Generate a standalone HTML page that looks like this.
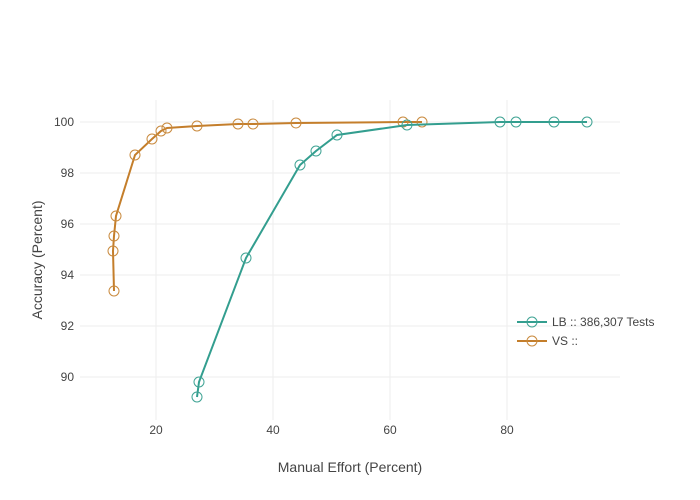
<!DOCTYPE html>
<html><head><meta charset="utf-8"><style>body{margin:0;background:#fff}svg{display:block}text{font-family:"Liberation Sans","Open Sans",sans-serif;fill:#444}</style></head><body>
<svg width="700" height="500" xmlns="http://www.w3.org/2000/svg">
<g stroke="#eeeeee" stroke-width="1">
<line x1="80" x2="620" y1="122" y2="122"/><line x1="80" x2="620" y1="173" y2="173"/><line x1="80" x2="620" y1="224" y2="224"/><line x1="80" x2="620" y1="275" y2="275"/><line x1="80" x2="620" y1="326" y2="326"/><line x1="80" x2="620" y1="377" y2="377"/>
<line x1="156" x2="156" y1="100" y2="420"/><line x1="273" x2="273" y1="100" y2="420"/><line x1="390" x2="390" y1="100" y2="420"/><line x1="507" x2="507" y1="100" y2="420"/>
</g>
<g font-size="12" text-anchor="end">
<text x="74" y="126">100</text><text x="74" y="177">98</text><text x="74" y="228">96</text><text x="74" y="279">94</text><text x="74" y="330">92</text><text x="74" y="381">90</text>
</g>
<g font-size="12" text-anchor="middle">
<text x="156" y="434">20</text><text x="273" y="434">40</text><text x="390" y="434">60</text><text x="507" y="434">80</text>
</g>
<text x="350" y="472" font-size="14" text-anchor="middle">Manual Effort (Percent)</text>
<text transform="translate(42,260) rotate(-90)" font-size="14" text-anchor="middle">Accuracy (Percent)</text>
<polyline fill="none" stroke="#c47e2b" stroke-width="2" points="114,291 113,251 114,236 116,216 135,155 152,139 161,131 167,128 197,126 238,124 253,124 296,123 403,122 422,122"/>
<g fill="none" stroke="#c98a3e" stroke-width="1">
<circle cx="114" cy="291" r="5"/><circle cx="113" cy="251" r="5"/><circle cx="114" cy="236" r="5"/><circle cx="116" cy="216" r="5"/><circle cx="135" cy="155" r="5"/><circle cx="152" cy="139" r="5"/><circle cx="161" cy="131" r="5"/><circle cx="167" cy="128" r="5"/><circle cx="197" cy="126" r="5"/><circle cx="238" cy="124" r="5"/><circle cx="253" cy="124" r="5"/><circle cx="296" cy="123" r="5"/><circle cx="403" cy="122" r="5"/><circle cx="422" cy="122" r="5"/>
</g>
<polyline fill="none" stroke="#339e8f" stroke-width="2" points="197,397 199,382 246,258 300,165 316,151 337,135 407,125 500,122 516,122 554,122 587,122"/>
<g fill="none" stroke="#3fa394" stroke-width="1">
<circle cx="197" cy="397" r="5"/><circle cx="199" cy="382" r="5"/><circle cx="246" cy="258" r="5"/><circle cx="300" cy="165" r="5"/><circle cx="316" cy="151" r="5"/><circle cx="337" cy="135" r="5"/><circle cx="407" cy="125" r="5"/><circle cx="500" cy="122" r="5"/><circle cx="516" cy="122" r="5"/><circle cx="554" cy="122" r="5"/><circle cx="587" cy="122" r="5"/>
</g>
<line x1="517" x2="547" y1="322" y2="322" stroke="#339e8f" stroke-width="2"/><circle cx="532" cy="322" r="5" fill="none" stroke="#3fa394"/>
<line x1="517" x2="547" y1="341" y2="341" stroke="#c47e2b" stroke-width="2"/><circle cx="532" cy="341" r="5" fill="none" stroke="#c98a3e"/>
<text x="552" y="326" font-size="12">LB :: 386,307 Tests</text>
<text x="552" y="345" font-size="12">VS ::</text>
</svg>
</body></html>
